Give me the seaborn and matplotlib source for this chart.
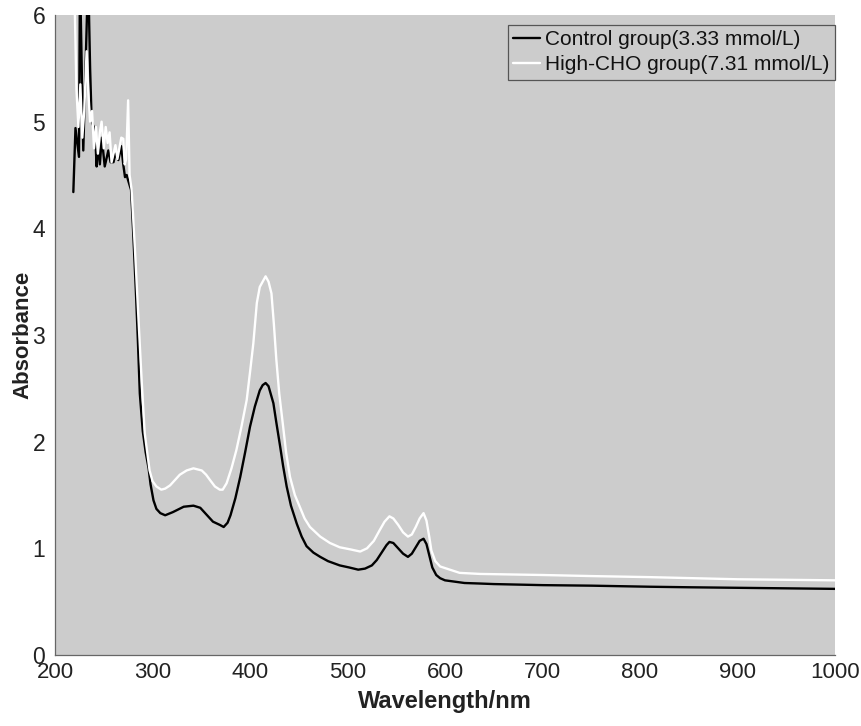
import matplotlib
matplotlib.use("Agg")
import matplotlib.pyplot as plt
import seaborn as sns
import pandas as pd

# ---- data ----
ctrl_wl = [218.8, 221, 224.6, 225.6, 229, 234, 236, 237.6, 241, 242.7, 244, 246, 248, 251,
           254.7, 257, 260, 262, 265, 268, 270, 271.8, 273.5, 275, 278,
           280, 283, 285, 287, 290, 293, 296, 298, 301, 304, 308, 313, 321, 332, 342, 349,
           357, 362, 369, 373, 377, 380, 385, 390, 395, 400, 405, 410, 413, 416, 419, 424,
           427, 431, 434, 437.6, 442, 448, 453, 458, 465, 472, 480, 492, 502, 511, 518, 525,
           530, 535, 540, 543, 547, 552, 557, 562, 566, 570, 574, 578, 581, 584, 587, 591,
           595, 600, 608, 620, 636, 650, 700, 750, 810, 850, 900, 950, 1000]
ctrl_abs = [4.34, 4.94, 4.67, 6.4, 4.73, 6.4, 5.5, 5.0, 4.92, 4.58, 4.8, 4.6, 4.85, 4.58,
            4.73, 4.62, 4.62, 4.7, 4.64, 4.77, 4.6, 4.48, 4.5, 4.45, 4.36,
            4.0, 3.4, 2.95, 2.45, 2.1, 1.9, 1.75, 1.6, 1.45, 1.37, 1.33, 1.31, 1.34, 1.39, 1.40, 1.38,
            1.30, 1.25, 1.22, 1.20, 1.24, 1.31, 1.47, 1.67, 1.90, 2.14, 2.33, 2.48, 2.53, 2.55, 2.52, 2.36,
            2.18, 1.95, 1.77, 1.58, 1.40, 1.23, 1.11, 1.02, 0.96, 0.92, 0.88, 0.84, 0.82, 0.80, 0.81, 0.84,
            0.89, 0.96, 1.03, 1.06, 1.05, 1.00, 0.95, 0.92, 0.95, 1.01, 1.07, 1.09, 1.04, 0.93, 0.82, 0.75,
            0.72, 0.70, 0.69, 0.675, 0.67, 0.665, 0.655, 0.65, 0.64, 0.635, 0.63, 0.625, 0.62]

cho_wl = [219.5, 222, 224, 226, 228, 230, 232.4, 234, 236, 238, 240, 242, 244, 246, 247.8,
          250, 252, 254, 256, 258, 260, 262, 264, 266, 268, 270, 271.5, 273, 275, 276.5, 278.6,
          282, 285.5, 289, 292, 297, 300, 304, 309, 313, 318, 323, 328, 335, 342, 350.5, 355,
          359, 364, 369, 372, 376, 381, 386, 391, 396.6, 400, 403.4, 407, 410, 413, 416, 419,
          422, 424.5, 427, 430, 434, 437, 441, 446, 451, 456, 461.5, 472, 482, 492, 503, 513,
          520, 527, 533, 538, 543, 547, 552, 557, 562, 566, 570, 574, 578, 581, 584, 586, 590,
          595, 605, 615, 636, 700, 750, 810, 900, 1000]
cho_abs = [6.4, 5.3, 4.95, 5.35, 4.85, 5.1, 5.66, 5.3, 5.0, 5.1, 4.75, 4.95, 4.7, 4.9, 5.0,
           4.75, 4.95, 4.8, 4.9, 4.62, 4.7, 4.78, 4.65, 4.75, 4.85, 4.84, 4.6, 4.65, 5.2, 4.5, 4.36,
           3.8, 3.17, 2.55, 2.08, 1.73, 1.63, 1.58, 1.55, 1.56, 1.59, 1.64, 1.69, 1.73, 1.75, 1.73, 1.69,
           1.64, 1.58, 1.55, 1.55, 1.61, 1.75, 1.92, 2.13, 2.39, 2.65, 2.92, 3.3, 3.45, 3.5, 3.55, 3.5,
           3.39, 3.1, 2.77, 2.45, 2.14, 1.9, 1.67, 1.5, 1.39, 1.28, 1.20, 1.11, 1.05, 1.01, 0.99, 0.97,
           1.0, 1.07, 1.17, 1.25, 1.30, 1.28, 1.22, 1.15, 1.11, 1.13, 1.2, 1.28, 1.33, 1.26, 1.1, 0.98, 0.88,
           0.83, 0.80, 0.77, 0.76, 0.75, 0.74, 0.73, 0.71, 0.70]

labels = ["Control group(3.33 mmol/L)", "High-CHO group(7.31 mmol/L)"]
x_ticks = [200, 300, 400, 500, 600, 700, 800, 900, 1000]
y_ticks = [0, 1, 2, 3, 4, 5, 6]

sns.set_theme(style="white")
plt.rcParams['font.family'] = ['Liberation Sans', 'DejaVu Sans']

fig = plt.figure(figsize=(8.61, 7.26), dpi=100)
ax = fig.add_axes([55 / 861, 71 / 726, 780 / 861, 640 / 726])
ax.set_facecolor("#cccccc")

df_c = pd.DataFrame({"wl": ctrl_wl, "a": ctrl_abs})
df_h = pd.DataFrame({"wl": cho_wl, "a": cho_abs})
sns.lineplot(data=df_c, x="wl", y="a", ax=ax, color="black", linewidth=1.7,
             estimator=None, label=labels[0])
sns.lineplot(data=df_h, x="wl", y="a", ax=ax, color="white", linewidth=1.7,
             estimator=None, label=labels[1])

ax.set_xlim(200, 1000)
ax.set_ylim(0, 6)
ax.set_xticks(x_ticks)
ax.set_yticks(y_ticks)
ax.tick_params(direction="in", length=6, width=0.8, color="#666666",
               labelcolor="#222222")
ax.tick_params(axis="y", labelsize=16.5, pad=7)
ax.tick_params(axis="x", labelsize=16, pad=5)
for s in ["top", "right"]:
    ax.spines[s].set_visible(False)
for s in ["left", "bottom"]:
    ax.spines[s].set_color("#666666")
    ax.spines[s].set_linewidth(0.9)

ax.set_xlabel("Wavelength/nm", fontsize=17, fontweight="bold", color="#222222", labelpad=5)
ax.set_ylabel("Absorbance", fontsize=16, fontweight="bold", color="#222222")
ax.yaxis.set_label_coords(-0.028, 0.5)

leg = ax.legend(loc="upper right", bbox_to_anchor=(1.0, 1 - 10 / 640), borderaxespad=0,
                fontsize=15, frameon=True, fancybox=False, handlelength=1.3,
                handletextpad=0.25, labelspacing=0.3, borderpad=0.25)
frame = leg.get_frame()
frame.set_facecolor("#cccccc")
frame.set_edgecolor("#555555")
frame.set_linewidth(0.9)
frame.set_alpha(1)
for t in leg.get_texts():
    t.set_color("#111111")

fig.savefig("out.png", dpi=100)
